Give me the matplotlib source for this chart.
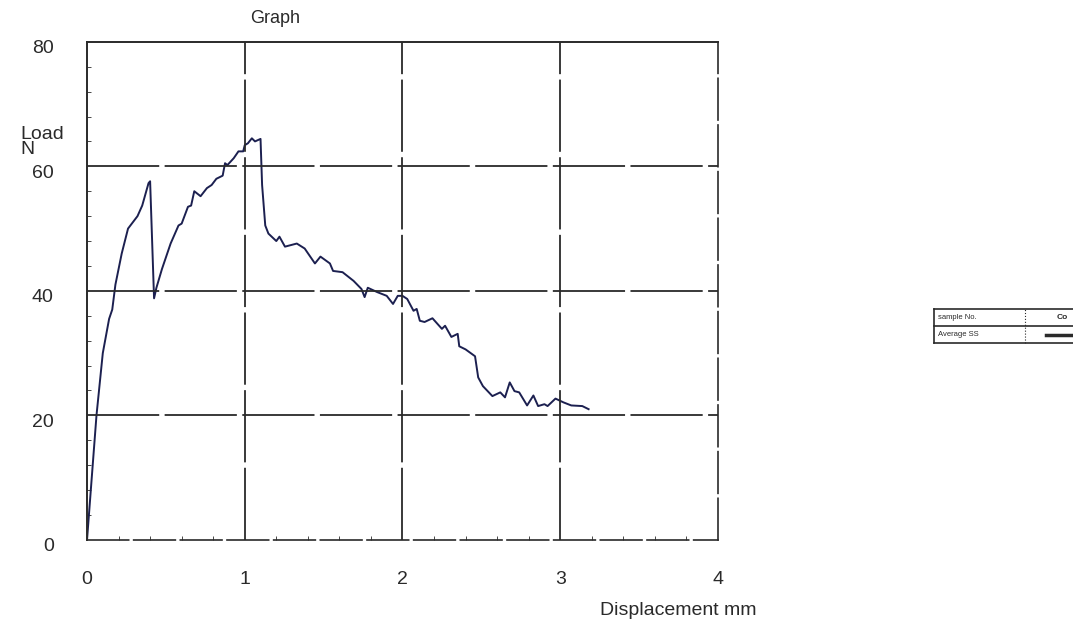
import matplotlib
matplotlib.use("Agg")
import matplotlib.pyplot as plt
import matplotlib.transforms as mtransforms
from matplotlib.lines import Line2D

plt.rcParams["font.family"] = ["Liberation Sans", "DejaVu Sans"]

# load-displacement curve
disp = [0.0, 0.03, 0.06, 0.10, 0.14, 0.16, 0.18, 0.22, 0.26, 0.29, 0.32, 0.35, 0.39, 0.40,
        0.425, 0.44, 0.475, 0.53, 0.58, 0.60, 0.64, 0.66, 0.68, 0.72, 0.76, 0.79, 0.82,
        0.86, 0.875, 0.89, 0.93, 0.96, 0.99, 1.0, 1.02, 1.045, 1.065, 1.10, 1.11, 1.13,
        1.15, 1.20, 1.22, 1.255, 1.33, 1.38, 1.445, 1.48, 1.54, 1.56, 1.62, 1.69, 1.74,
        1.76, 1.78, 1.84, 1.90, 1.94, 1.97, 2.0, 2.03, 2.07, 2.09, 2.11, 2.14, 2.19,
        2.25, 2.27, 2.31, 2.35, 2.36, 2.40, 2.46, 2.48, 2.51, 2.57, 2.62, 2.65, 2.68,
        2.71, 2.74, 2.79, 2.83, 2.86, 2.90, 2.92, 2.97, 3.02, 3.07, 3.14, 3.18]
load = [0.0, 10.0, 20.0, 30.0, 35.5, 37.0, 41.0, 46.0, 50.0, 51.0, 52.0, 53.7, 57.3, 57.6,
        38.8, 40.5, 43.5, 47.6, 50.5, 50.8, 53.5, 53.7, 56.0, 55.2, 56.5, 57.0, 58.0,
        58.5, 60.5, 60.2, 61.3, 62.4, 62.4, 63.4, 63.7, 64.5, 64.0, 64.4, 57.0, 50.5,
        49.2, 48.0, 48.7, 47.1, 47.6, 46.8, 44.4, 45.5, 44.4, 43.2, 43.0, 41.6, 40.3,
        39.0, 40.5, 39.8, 39.2, 37.9, 39.2, 39.2, 38.7, 36.8, 37.1, 35.2, 35.0, 35.6,
        33.9, 34.4, 32.6, 33.1, 31.1, 30.6, 29.5, 26.1, 24.7, 23.1, 23.7, 22.9, 25.3,
        23.9, 23.7, 21.6, 23.2, 21.5, 21.8, 21.5, 22.7, 22.1, 21.6, 21.5, 21.0]

x_ticks = [0, 1, 2, 3, 4]
y_ticks = [0, 20, 40, 60, 80]

ink = "#2a2a2a"
fig = plt.figure(figsize=(10.73, 6.33), dpi=100)
ax = fig.add_axes([0.0811, 0.147, 0.588, 0.787])

ax.plot(disp, load, color="#1c2050", lw=1.4)

ax.set_xlim(0, 4)
ax.set_ylim(0, 80)
ax.set_xticks(x_ticks)
ax.set_yticks(y_ticks)
ax.set_xticks([i * 0.2 for i in range(21)], minor=True)
ax.set_yticks([i * 4 for i in range(21)], minor=True)
ax.tick_params(axis="both", which="major", labelsize=14, length=0, colors=ink)
ax.tick_params(axis="both", which="minor", length=3, direction="in", colors=ink)
ax.tick_params(axis="y", pad=24)
ax.tick_params(axis="x", pad=22)
# scan puts the y labels a few pixels under their grid lines
shift = mtransforms.ScaledTranslation(0, -5 / 100, fig.dpi_scale_trans)
for lab in ax.get_yticklabels():
    lab.set_transform(lab.get_transform() + shift)

for v in x_ticks[1:-1]:
    ax.axvline(v, color=ink, lw=1.3, ls=(0, (40, 3)))
for v in y_ticks[1:-1]:
    ax.axhline(v, color=ink, lw=1.3, ls=(0, (40, 3)))

for side in ("top", "left"):
    ax.spines[side].set_color(ink)
    ax.spines[side].set_linewidth(1.4)
for side in ("bottom", "right"):
    ax.spines[side].set_color(ink)
    ax.spines[side].set_linewidth(1.2)
    ax.spines[side].set_linestyle((0, (25, 3)))

fig.text(0.256, 0.958, "Graph", fontsize=13, color=ink, ha="center", va="bottom")
fig.text(0.019, 0.775, "Load\nN", fontsize=14, color=ink, ha="left", va="center", linespacing=0.85)
fig.text(0.632, 0.022, "Displacement mm", fontsize=14, color=ink, ha="center", va="bottom")

# small legend table at the right, clipped by the page edge
lx0, lx1, lxm = 0.870, 1.0, 0.955
ly0, ly1, ly2 = 0.458, 0.485, 0.512
for yy in (ly0, ly1, ly2):
    fig.add_artist(Line2D([lx0, lx1], [yy, yy], color=ink, lw=1.2))
fig.add_artist(Line2D([lx0, lx0], [ly0, ly2], color=ink, lw=1.2))
fig.add_artist(Line2D([lxm, lxm], [ly0, ly2], color=ink, lw=0.8, ls=":"))
fig.text(0.874, (ly1 + ly2) / 2, "sample No.", fontsize=5.5, color=ink, va="center")
fig.text(0.874, (ly0 + ly1) / 2, "Average SS", fontsize=5.5, color=ink, va="center")
fig.text(0.985, (ly1 + ly2) / 2, "Co", fontsize=6, color=ink, va="center", weight="bold")
fig.add_artist(Line2D([0.975, 1.0], [(ly0 + ly1) / 2] * 2, color=ink, lw=2.5))

fig.savefig("out.png", dpi=100)
